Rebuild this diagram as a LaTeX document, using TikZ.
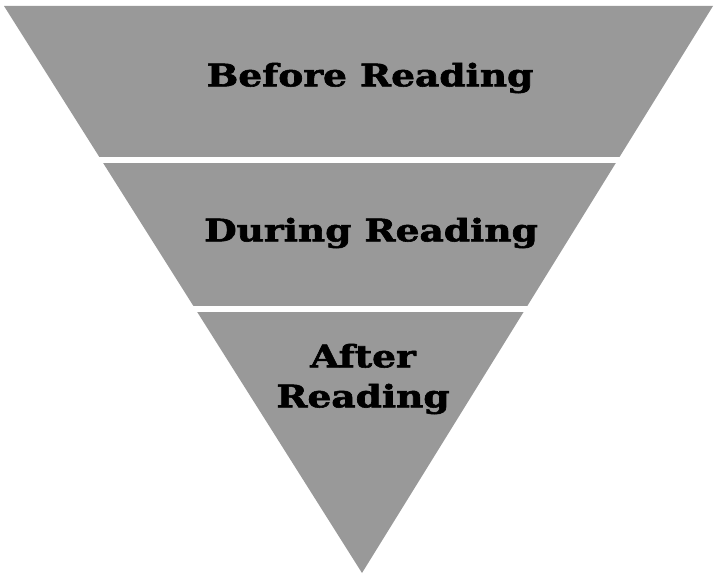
\documentclass[tikz,border=0pt]{standalone}
\usepackage{fontspec}
\setmainfont{DejaVu Serif}[BoldFont={DejaVu Serif Bold}, BoldFeatures={FakeBold=1.8}]
\usepackage{xcolor}
\definecolor{funnelgray}{RGB}{153,153,153}
\usetikzlibrary{calc}

\tikzset{
  stagelabel/.style={font=\bfseries\fontsize{31}{40}\selectfont, text=black, align=center, inner sep=0pt, xscale=1.21, transform shape}
}

\begin{document}
\begin{tikzpicture}[x=1pt, y=-1pt]
  \useasboundingbox (0,0) rectangle (715,575);

  % Funnel body
  \fill[funnelgray] (4,6) -- (713,6) -- (362,573) -- cycle;

  % White gaps between stages
  \draw[white, line width=5.5pt] (0,160) -- (715,160);
  \draw[white, line width=5.5pt] (0,309) -- (715,309);

  % Stage labels
  \node[stagelabel] (before) at (370,78) {Before Reading};
  \node[stagelabel] (during) at (371,233) {During Reading};
  \node[stagelabel] (after) at (363,379) {After\\Reading};
\end{tikzpicture}
\end{document}
